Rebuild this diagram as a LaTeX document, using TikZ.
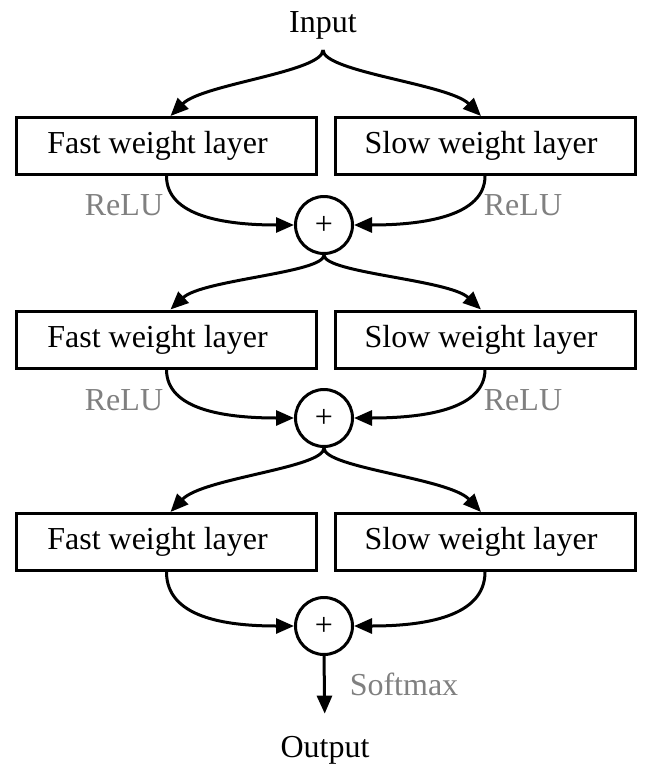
\documentclass[tikz,border=0pt]{standalone}
\usepackage{fontspec}
\setmainfont{Liberation Serif}
\usetikzlibrary{arrows.meta}
\begin{document}
\begin{tikzpicture}[x=1pt,y=-1pt,
  every node/.style={font=\fontsize{32}{38}\selectfont},
  layerbox/.style={draw,line width=3pt,minimum width=300pt,minimum height=57pt,inner sep=0pt},
  sumnode/.style={draw,circle,line width=3pt,minimum size=57pt,inner sep=0pt},
  lbl/.style={text=gray,anchor=base,inner sep=0pt},
  plain/.style={anchor=base,inner sep=0pt},
  conn/.style={line width=3pt,-{Triangle[length=18pt,width=15pt]}}
]
\useasboundingbox (0,0) rectangle (648,766);
% nodes
\node[plain] (in) at (323,32) {Input};
\coordinate (split0) at (323,50);

\node[layerbox] (f1) at (166.5,146) {Fast weight layer\kern18pt};
\node[layerbox] (s1) at (485,146) {Slow weight layer\kern8pt};
\node[sumnode] (p1) at (324,225) {+};

\node[layerbox] (f2) at (166.5,339.5) {Fast weight layer\kern18pt};
\node[layerbox] (s2) at (485,339.5) {Slow weight layer\kern8pt};
\node[sumnode] (p2) at (324,418) {+};

\node[layerbox] (f3) at (166.5,542) {Fast weight layer\kern18pt};
\node[layerbox] (s3) at (485,542) {Slow weight layer\kern8pt};
\node[sumnode] (p3) at (324,626) {+};

\node[plain] (out) at (325,757) {Output};

\node[lbl] (r1l) at (124,215) {ReLU};
\node[lbl] (r1r) at (523,215) {ReLU};
\node[lbl] (r2l) at (124,410) {ReLU};
\node[lbl] (r2r) at (523,410) {ReLU};
\node[lbl] (sm) at (404,695) {Softmax};

% input split
\draw[conn] (split0) .. controls +(0,22) and +(32,-32) .. ([xshift=4pt]f1.north);
\draw[conn] (split0) .. controls +(0,22) and +(-32,-32) .. ([xshift=-4pt]s1.north);

% row 1 merge
\draw[conn] (f1.south) .. controls +(0,40) and +(-70,0) .. (p1.west);
\draw[conn] (s1.south) .. controls +(0,40) and +(70,0) .. (p1.east);
% split 1
\draw[conn] (p1.south) .. controls +(0,18) and +(32,-30) .. ([xshift=4pt]f2.north);
\draw[conn] (p1.south) .. controls +(0,18) and +(-32,-30) .. ([xshift=-4pt]s2.north);

% row 2 merge
\draw[conn] (f2.south) .. controls +(0,40) and +(-70,0) .. (p2.west);
\draw[conn] (s2.south) .. controls +(0,40) and +(70,0) .. (p2.east);
% split 2
\draw[conn] (p2.south) .. controls +(0,20) and +(32,-34) .. ([xshift=4pt]f3.north);
\draw[conn] (p2.south) .. controls +(0,20) and +(-32,-34) .. ([xshift=-4pt]s3.north);

% row 3 merge
\draw[conn] (f3.south) .. controls +(0,45) and +(-70,0) .. (p3.west);
\draw[conn] (s3.south) .. controls +(0,45) and +(70,0) .. (p3.east);

% output
\draw[conn,shorten >=22pt] (p3.south) -- (out.north);
\end{tikzpicture}
\end{document}
